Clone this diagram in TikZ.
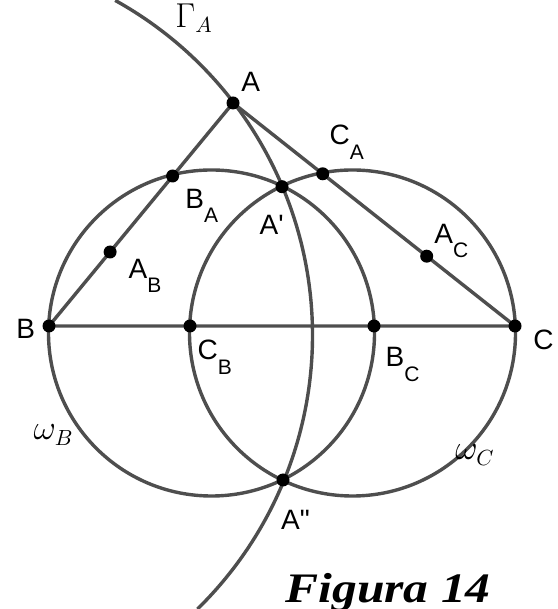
\documentclass[tikz,border=0pt]{standalone}
\usepackage{fontspec}
\setsansfont{Liberation Sans}
\newfontfamily\figfont{Liberation Serif}
\usepackage{tikz}
\definecolor{linegray}{RGB}{78,78,78}
\tikzset{
  geo/.style={draw=linegray,line width=1.7pt},
  pt/.style={circle,fill=black,inner sep=0pt,minimum size=6.5pt},
  lab/.style={font=\sffamily\fontsize{14}{15}\selectfont,
    inner sep=0pt,anchor=base west},
  mlab/.style={font=\fontsize{16}{17}\selectfont,
    inner sep=0pt,anchor=base west},
  figlab/.style={font=\figfont\bfseries\itshape\fontsize{21}{22}\selectfont,
    inner sep=0pt,anchor=base west}
}
\newcommand{\lowsub}[1]{\raisebox{-7.2pt}{\fontsize{10.5}{11}\selectfont #1}}

\begin{document}
\begin{tikzpicture}[x=0.5pt,y=0.5pt]
  \useasboundingbox (0,0) rectangle (557,609);
  % points
  \coordinate (A) at (233,506);
  \coordinate (B) at (49,283);
  \coordinate (C) at (515,283);
  \coordinate (CB) at (190,283);
  \coordinate (BC) at (374,283);
  \coordinate (BA) at (172.6,433);
  \coordinate (AB) at (110.1,357);
  \coordinate (CA) at (322.7,435.2);
  \coordinate (AC) at (426.7,352.8);
  \coordinate (A1) at (282,422.3);
  \coordinate (A2) at (283,129);
  % centres
  \coordinate (OB) at (211.5,276);
  \coordinate (OC) at (352.5,276);
  \coordinate (OG) at (-70.5,273.6);
  % circles
  \draw[geo] (OB) circle[radius=163];
  \draw[geo] (OC) circle[radius=163];
  \draw[geo] (OG) ++(61:383) arc[start angle=61,end angle=-45.6,radius=383];
  % triangle
  \draw[geo] (A) -- (B) -- (C) -- cycle;
  \foreach \p in {A,B,C,CB,BC,BA,AB,CA,AC,A1,A2}
    \node[pt] (dot\p) at (\p) {};
  % labels
  \node[lab] (labA) at (241,517.8) {A};
  \node[mlab] (labG) at (175,581.7) {$\Gamma_A$};
  \node[lab] (labB) at (16,270.7) {B};
  \node[lab] (labC) at (533,259) {C};
  \node[lab] (labBA) at (185,400.7) {B\lowsub{A}};
  \node[lab] (labCA) at (329.3,464) {C\lowsub{A}};
  \node[lab] (labA1) at (259.3,374) {A\textquotesingle};
  \node[lab] (labAB) at (128.3,330.7) {A\lowsub{B}};
  \node[lab] (labAC) at (434,365.7) {A\lowsub{C}};
  \node[lab] (labCB) at (197.3,249) {C\lowsub{B}};
  \node[lab] (labBC) at (385.3,242.3) {B\lowsub{C}};
  \node[lab] (labA2) at (280.7,79) {A\textquotedbl};
  \node[mlab] (labwB) at (33.3,169) {$\omega_B$};
  \node[mlab] (labwC) at (455,149) {$\omega_C$};
  \node[figlab] (fig) at (285,6.3) {\scalebox{1.18}[1]{Figura 14}};
\end{tikzpicture}
\end{document}
